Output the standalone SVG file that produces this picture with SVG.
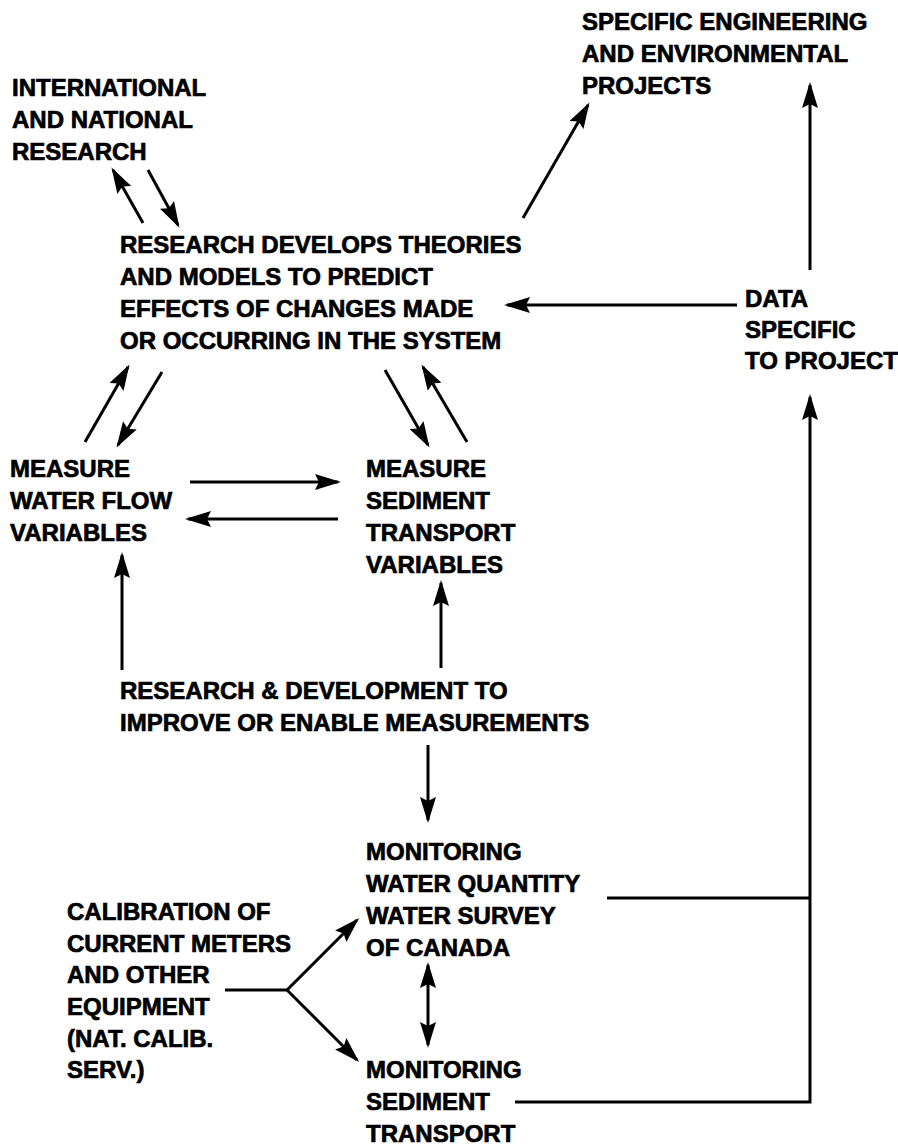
<svg xmlns="http://www.w3.org/2000/svg" width="898" height="1146" viewBox="0 0 898 1146">
<style>
text{font-family:"Liberation Sans",Arial,sans-serif;font-weight:bold;font-size:24px;fill:#000;stroke:#000;stroke-width:0.7}
.c line,.c path{stroke:#000;stroke-width:3;fill:none}
</style>
<defs>
<marker id="ah" viewBox="0 0 26 16" markerUnits="userSpaceOnUse" markerWidth="26" markerHeight="16" refX="23" refY="8" orient="auto-start-reverse">
<path d="M0,0 L26,8 L0,16 L4,8 z" fill="#000"/>
</marker>
</defs>
<rect width="898" height="1146" fill="#fff"/>
<g id="n-specific"><text x="582" y="30">SPECIFIC ENGINEERING</text><text x="582" y="62">AND ENVIRONMENTAL</text><text x="582" y="94">PROJECTS</text></g>
<g id="n-intl"><text x="12" y="96">INTERNATIONAL</text><text x="12" y="128">AND NATIONAL</text><text x="12" y="160">RESEARCH</text></g>
<g id="n-research"><text x="120" y="253">RESEARCH DEVELOPS THEORIES</text><text x="120" y="285">AND MODELS TO PREDICT</text><text x="120" y="317">EFFECTS OF CHANGES MADE</text><text x="120" y="349">OR OCCURRING IN THE SYSTEM</text></g>
<g id="n-data"><text x="745" y="307">DATA</text><text x="745" y="338">SPECIFIC</text><text x="745" y="369">TO PROJECT</text></g>
<g id="n-flow"><text x="10" y="477">MEASURE</text><text x="10" y="509">WATER FLOW</text><text x="10" y="541">VARIABLES</text></g>
<g id="n-sed"><text x="366" y="477">MEASURE</text><text x="366" y="509">SEDIMENT</text><text x="366" y="541">TRANSPORT</text><text x="366" y="573">VARIABLES</text></g>
<g id="n-rd"><text x="120" y="699">RESEARCH &amp; DEVELOPMENT TO</text><text x="120" y="731">IMPROVE OR ENABLE MEASUREMENTS</text></g>
<g id="n-monq"><text x="366" y="860">MONITORING</text><text x="366" y="892">WATER QUANTITY</text><text x="366" y="924">WATER SURVEY</text><text x="366" y="956">OF CANADA</text></g>
<g id="n-calib"><text x="67" y="920">CALIBRATION OF</text><text x="67" y="952">CURRENT METERS</text><text x="67" y="983">AND OTHER</text><text x="67" y="1015">EQUIPMENT</text><text x="67" y="1047">(NAT. CALIB.</text><text x="67" y="1078">SERV.)</text></g>
<g id="n-mons"><text x="366" y="1078">MONITORING</text><text x="366" y="1110">SEDIMENT</text><text x="366" y="1142">TRANSPORT</text></g>
<g class="c" id="connectors">
<line x1="143" y1="223" x2="113" y2="170" marker-end="url(#ah)"/>
<line x1="148" y1="170" x2="178" y2="225" marker-end="url(#ah)"/>
<line x1="523" y1="218" x2="588" y2="105" marker-end="url(#ah)"/>
<line x1="810" y1="270" x2="810" y2="85" marker-end="url(#ah)"/>
<line x1="737" y1="305" x2="507" y2="305" marker-end="url(#ah)"/>
<line x1="85" y1="442" x2="128" y2="367" marker-end="url(#ah)"/>
<line x1="162" y1="372" x2="118" y2="445" marker-end="url(#ah)"/>
<line x1="385" y1="370" x2="428" y2="445" marker-end="url(#ah)"/>
<line x1="467" y1="442" x2="423" y2="367" marker-end="url(#ah)"/>
<line x1="190" y1="482" x2="338" y2="482" marker-end="url(#ah)"/>
<line x1="338" y1="519" x2="188" y2="519" marker-end="url(#ah)"/>
<line x1="122" y1="670" x2="122" y2="555" marker-end="url(#ah)"/>
<line x1="441" y1="668" x2="441" y2="583" marker-end="url(#ah)"/>
<line x1="428" y1="745" x2="428" y2="820" marker-end="url(#ah)"/>
<path d="M225,990 H287 L357,920" marker-end="url(#ah)"/>
<line x1="287" y1="990" x2="357" y2="1060" marker-end="url(#ah)"/>
<line x1="428" y1="965" x2="428" y2="1045" marker-start="url(#ah)" marker-end="url(#ah)"/>
<line x1="607" y1="898" x2="810" y2="898"/>
<path d="M515,1102 H810 V397" marker-end="url(#ah)"/>
</g>
</svg>
